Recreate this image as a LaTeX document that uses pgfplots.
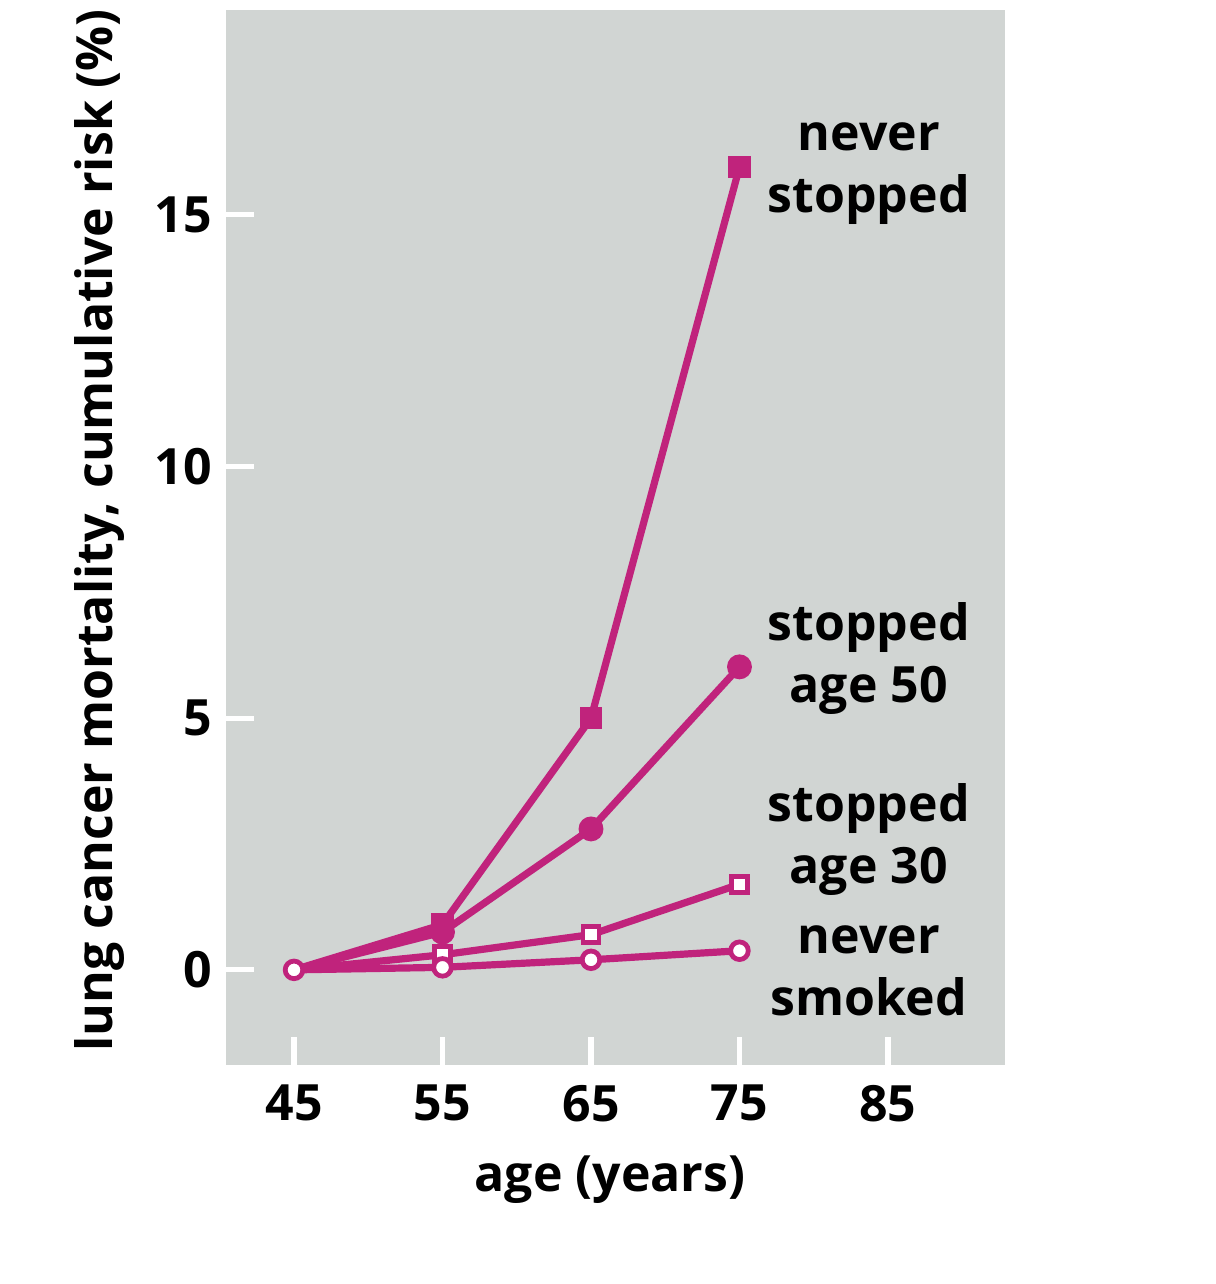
\documentclass[border=0pt]{standalone}
\usepackage{fontspec}
\setmainfont{Open Sans}
\usepackage{pgfplots}
\pgfplotsset{compat=1.18}
\definecolor{mag}{HTML}{C0237C}
\definecolor{bg}{HTML}{D1D5D3}

\begin{document}
\begin{tikzpicture}[font=\fontsize{12.5}{15.5}\selectfont\bfseries]
\begin{axis}[
    scale only axis,
    width=194.75pt, height=263.75pt,
    xmin=40.42, xmax=92.88,
    ymin=-1.89, ymax=19.07,
    axis background/.style={fill=bg},
    axis line style={draw=none},
    xtick={45,55,65,75,85},
    ytick={0,5,10,15},
    xtick pos=bottom, ytick pos=left,
    tick align=inside,
    major tick length=7pt,
    every tick/.style={white, line width=1.3pt},
    /pgf/number format/assume math mode=true,
    ticklabel style={font=\fontsize{12.5}{15}\selectfont\bfseries},
    xticklabel style={yshift=-1.5pt},
    xlabel={age (years)},
    ylabel={lung cancer mortality, cumulative risk (\%)},
    xlabel style={at={(axis description cs:0.493,-0.109)}, anchor=center, overlay},
    ylabel style={at={(axis description cs:-0.162,0.507)}, anchor=center, overlay},
    clip=false,
]
% never stopped
\addplot[mag, line width=1.8pt, mark=square*, mark size=1.9pt,
    mark indices={2,3,4}, mark options={solid, fill=mag}]
    coordinates {(45,0) (55,0.9) (65,5.0) (75,15.95)};
% stopped age 50
\addplot[mag, line width=1.8pt, mark=*, mark size=2.2pt,
    mark indices={2,3,4}, mark options={solid, fill=mag}]
    coordinates {(45,0) (55,0.75) (65,2.8) (75,6.02)};
% stopped age 30
\addplot[mag, line width=1.8pt, mark=square*, mark size=2pt,
    mark indices={2,3,4}, mark options={solid, fill=white, draw=mag, line width=1.2pt}]
    coordinates {(45,0) (55,0.3) (65,0.7) (75,1.7)};
% never smoked
\addplot[mag, line width=1.8pt, mark=*, mark size=2.2pt,
    mark options={solid, fill=white, draw=mag, line width=1.2pt}]
    coordinates {(45,0) (55,0.05) (65,0.2) (75,0.38)};

\node[align=center, yshift=-2pt] at (axis cs:83.7,15.97) {never\\stopped};
\node[align=center, yshift=-1pt] at (axis cs:83.7,6.26) {stopped\\age 50};
\node[align=center, yshift=-1pt] at (axis cs:83.7,2.66) {stopped\\age 30};
\node[align=center, yshift=-1pt] at (axis cs:83.7,0.06) {never\\smoked};
\end{axis}
\path (current axis.south west) ++(-56.5pt,-54.75pt) rectangle ([shift={(52.75pt,2.5pt)}]current axis.north east);
\end{tikzpicture}
\end{document}
